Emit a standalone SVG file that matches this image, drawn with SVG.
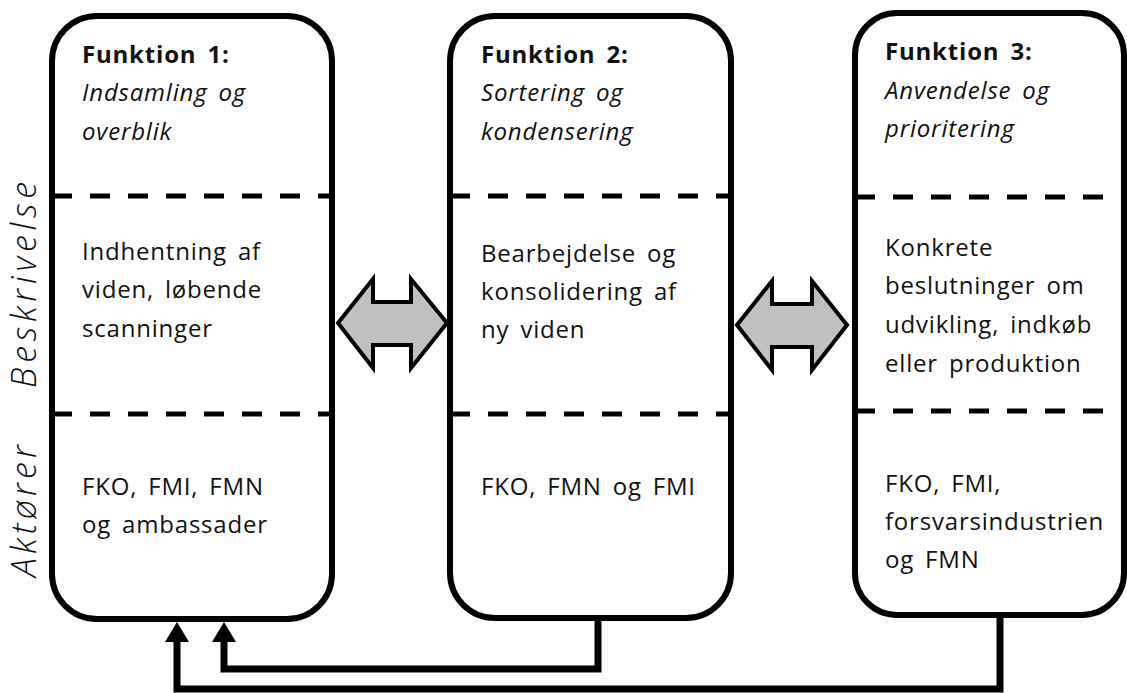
<svg xmlns="http://www.w3.org/2000/svg" width="1127" height="693" viewBox="0 0 1127 693">
<defs>
<style>
.box{fill:#fff;stroke:#000;stroke-width:6}
.dash{stroke:#000;stroke-width:5;stroke-dasharray:20 18;fill:none}
.t{font-family:"Open Sans","Liberation Sans",sans-serif;font-size:24px;letter-spacing:0.8px;word-spacing:4px;fill:#111}
.b{font-weight:bold}
.i{font-style:italic}
.side{font-family:"Open Sans","Liberation Sans",sans-serif;font-size:34px;font-style:italic;font-weight:300;fill:#111}
.conn{fill:none;stroke:#000;stroke-width:7;stroke-linejoin:miter}
.blk{fill:#c0c0c0;stroke:#000;stroke-width:4;stroke-linejoin:miter}
</style>
<marker id="ah" viewBox="0 0 20 24" refX="0" refY="12" markerWidth="20" markerHeight="24" markerUnits="userSpaceOnUse" orient="auto">
<path d="M0,0 L20,12 L0,24 Z" fill="#000"/>
</marker>
</defs>
<rect width="1127" height="693" fill="#fff"/>

<g id="labels">
<text class="side" transform="translate(36,285) rotate(-90)" text-anchor="middle" textLength="206" lengthAdjust="spacing">Beskrivelse</text>
<text class="side" transform="translate(36,511) rotate(-90)" text-anchor="middle" textLength="132" lengthAdjust="spacing">Aktører</text>
</g>

<g id="connectors">
<path class="conn" d="M1000,615 V689 H177 V642" marker-end="url(#ah)"/>
<path class="conn" d="M598,618 V669 H224 V642" marker-end="url(#ah)"/>
<polygon class="blk" points="338,323 373,279 373,302 411,302 411,279 447,323 411,368 411,345 373,345 373,368"/>
<polygon class="blk" points="737,325 772,281 772,304 812,304 812,281 847,325 812,370 812,347 772,347 772,370"/>
</g>

<g id="f1">
<rect class="box" x="52" y="16" width="280" height="603" rx="45"/>
<line class="dash" x1="52" y1="196" x2="332" y2="196"/>
<line class="dash" x1="52" y1="414" x2="332" y2="414"/>
<text class="t b" x="82" y="63">Funktion 1:</text>
<text class="t i" x="82" y="101">Indsamling og</text>
<text class="t i" x="82" y="140">overblik</text>
<text class="t" x="82" y="260">Indhentning af</text>
<text class="t" x="82" y="298">viden, løbende</text>
<text class="t" x="82" y="337">scanninger</text>
<text class="t" x="82" y="495">FKO, FMI, FMN</text>
<text class="t" x="82" y="533">og ambassader</text>
</g>

<g id="f2">
<rect class="box" x="450" y="16" width="281" height="602" rx="45"/>
<line class="dash" x1="450" y1="196" x2="731" y2="196"/>
<line class="dash" x1="450" y1="414" x2="731" y2="414"/>
<text class="t b" x="481" y="63">Funktion 2:</text>
<text class="t i" x="481" y="101">Sortering og</text>
<text class="t i" x="481" y="140">kondensering</text>
<text class="t" x="481" y="262">Bearbejdelse og</text>
<text class="t" x="481" y="300">konsolidering af</text>
<text class="t" x="481" y="338">ny viden</text>
<text class="t" x="481" y="495">FKO, FMN og FMI</text>
</g>

<g id="f3">
<rect class="box" x="855" y="13" width="269" height="602" rx="42"/>
<line class="dash" x1="855" y1="197" x2="1124" y2="197"/>
<line class="dash" x1="855" y1="411" x2="1124" y2="411"/>
<text class="t b" x="885" y="60">Funktion 3:</text>
<text class="t i" x="885" y="99">Anvendelse og</text>
<text class="t i" x="885" y="137">prioritering</text>
<text class="t" x="885" y="256">Konkrete</text>
<text class="t" x="885" y="294">beslutninger om</text>
<text class="t" x="885" y="333">udvikling, indkøb</text>
<text class="t" x="885" y="372">eller produktion</text>
<text class="t" x="885" y="492">FKO, FMI,</text>
<text class="t" x="885" y="530">forsvarsindustrien</text>
<text class="t" x="885" y="568">og FMN</text>
</g>
</svg>
